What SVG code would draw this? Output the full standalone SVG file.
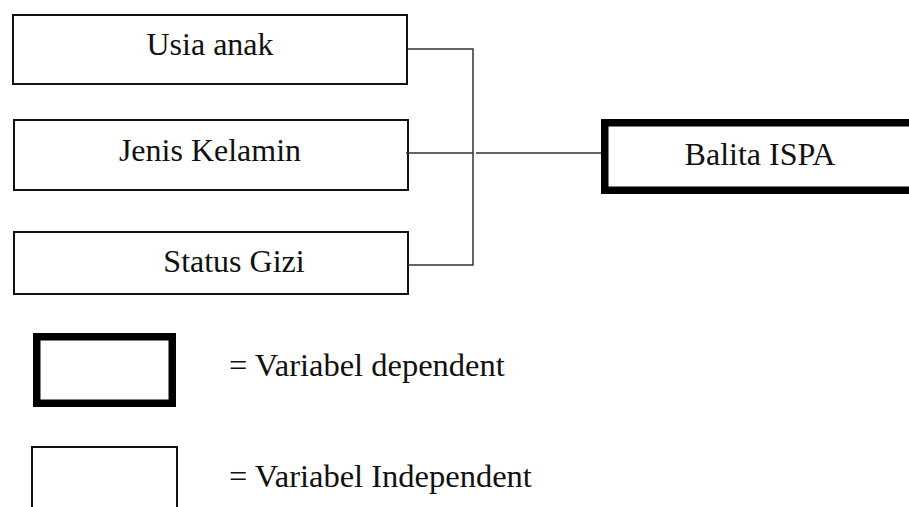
<svg xmlns="http://www.w3.org/2000/svg" width="909" height="507" viewBox="0 0 909 507">
<style>
.box{fill:#fff;stroke:#111;stroke-width:2}
.dep{fill:#fff;stroke:#000;stroke-width:7.5}
.t{font-family:"Liberation Serif","Times New Roman",serif;font-size:32px;fill:#111}
.l{font-size:32.5px}
.c{fill:none;stroke:#333;stroke-width:1.5}
</style>
<rect width="909" height="507" fill="#fff"/>
<g id="usia"><rect class="box" x="13" y="15" width="394" height="69"/><text class="t" x="210" y="55" text-anchor="middle">Usia anak</text></g>
<g id="jenis"><rect class="box" x="14" y="120" width="394" height="70"/><text class="t" x="210" y="161" text-anchor="middle">Jenis Kelamin</text></g>
<g id="gizi"><rect class="box" x="14" y="232" width="394" height="62"/><text class="t" x="234" y="272" text-anchor="middle">Status Gizi</text></g>
<g id="balita"><rect class="dep" x="604.75" y="122.75" width="320" height="67.5"/><text class="t" x="760" y="165" text-anchor="middle" font-size="33">Balita ISPA</text></g>
<g id="connectors">
<path class="c" d="M408 49H473V265H408M406 153H473M476 153H601"/>
</g>
<g id="legend-dep"><rect class="dep" x="36.75" y="336.75" width="135.5" height="66.5"/><text class="t l" x="229" y="376">= Variabel dependent</text></g>
<g id="legend-indep"><path class="box" d="M32 510V447H177V510"/><text class="t l" x="229" y="487">= Variabel Independent</text></g>
</svg>
